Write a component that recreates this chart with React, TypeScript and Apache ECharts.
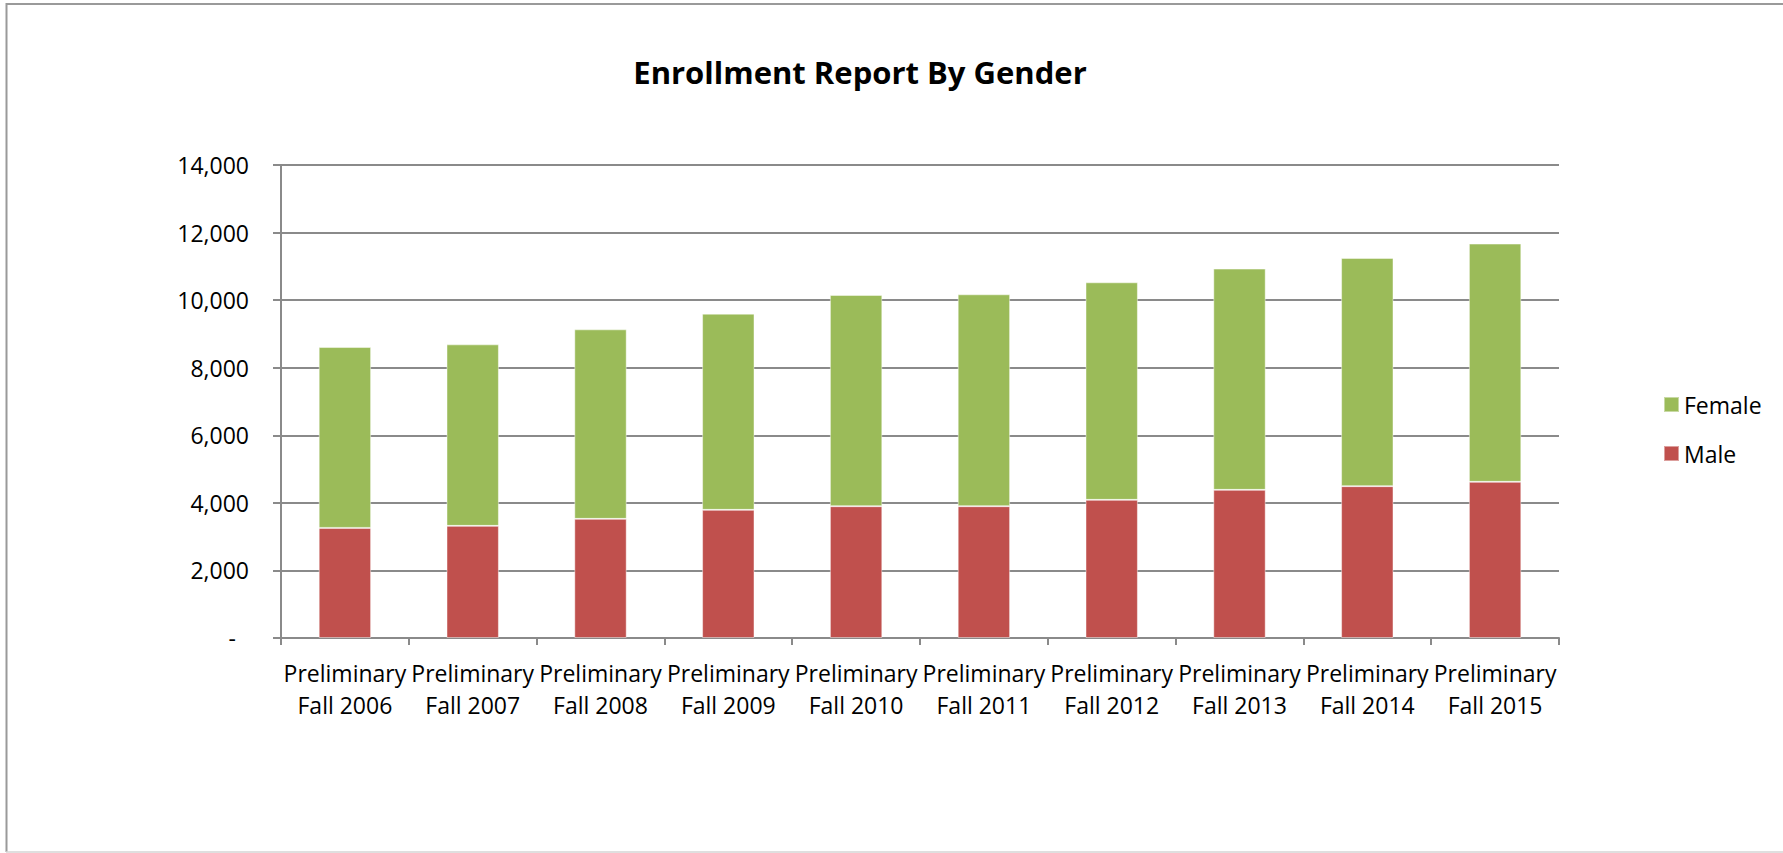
import React, { useEffect, useRef } from "react";
import * as echarts from "echarts";

const categories = [
  "Preliminary\nFall 2006",
  "Preliminary\nFall 2007",
  "Preliminary\nFall 2008",
  "Preliminary\nFall 2009",
  "Preliminary\nFall 2010",
  "Preliminary\nFall 2011",
  "Preliminary\nFall 2012",
  "Preliminary\nFall 2013",
  "Preliminary\nFall 2014",
  "Preliminary\nFall 2015",
];
const maleValues = [3259, 3319, 3526, 3793, 3901, 3901, 4089, 4385, 4494, 4622];
const femaleValues = [5353, 5372, 5610, 5807, 6252, 6272, 6439, 6548, 6755, 7052];
const titleText = "Enrollment Report By Gender";
const yMin = 0;
const yMax = 14000;
const yInterval = 2000;

const FONT = "'Open Sans', 'Liberation Sans', sans-serif";
const GRAY = "#8a8a8a";

export default function App() {
  const ref = useRef<HTMLDivElement>(null);

  useEffect(() => {
    if (!ref.current) return;
    const chart = echarts.init(ref.current, null, { renderer: "svg" });
    chart.setOption({
      animation: false,
      backgroundColor: "#ffffff",
      title: {
        text: titleText,
        left: 855,
        top: 51,
        textAlign: "center",
        textStyle: {
          fontFamily: FONT,
          fontWeight: "bold",
          fontSize: 31,
          color: "#000000",
        },
      },
      legend: {
        orient: "vertical",
        left: 1658,
        top: 388,
        itemWidth: 15,
        itemHeight: 15,
        itemGap: 26,
        icon: "rect",
        data: ["Female", "Male"],
        textStyle: {
          fontFamily: FONT,
          fontSize: 23,
          lineHeight: 23,
          color: "#000000",
        },
      },
      grid: {
        left: 281,
        right: 224,
        top: 165,
        bottom: 215,
        containLabel: false,
      },
      xAxis: {
        type: "category",
        data: categories,
        boundaryGap: true,
        axisLine: { show: true, lineStyle: { color: GRAY, width: 2 } },
        axisTick: { show: true, length: 7, lineStyle: { color: GRAY, width: 2 } },
        axisLabel: {
          interval: 0,
          margin: 19,
          fontFamily: FONT,
          fontSize: 23,
          lineHeight: 32,
          color: "#000000",
        },
        splitLine: { show: false },
      },
      yAxis: {
        type: "value",
        min: yMin,
        max: yMax,
        interval: yInterval,
        axisLine: { show: true, lineStyle: { color: GRAY, width: 2 } },
        axisTick: { show: true, length: 8, lineStyle: { color: GRAY, width: 2 } },
        axisLabel: {
          margin: 32,
          fontFamily: FONT,
          fontSize: 23,
          color: "#000000",
          formatter: (v: number) =>
            v === 0 ? "{d|-}" : v.toLocaleString("en-US"),
          rich: {
            d: {
              fontFamily: FONT,
              fontSize: 23,
              color: "#000000",
              padding: [0, 13, 0, 0],
            },
          },
        },
        splitLine: { show: true, lineStyle: { color: GRAY, width: 2 } },
      },
      series: [
        {
          name: "Male",
          type: "bar",
          stack: "total",
          data: maleValues,
          barCategoryGap: "59%",
          itemStyle: {
            color: "#C0504D",
            borderColor: "rgba(255,255,255,0.45)",
            borderWidth: 1,
          },
        },
        {
          name: "Female",
          type: "bar",
          stack: "total",
          data: femaleValues,
          barCategoryGap: "59%",
          itemStyle: {
            color: "#9BBB59",
            borderColor: "rgba(255,255,255,0.45)",
            borderWidth: 1,
          },
        },
      ],
      graphic: [
        {
          type: "line",
          shape: { x1: 6, y1: 4, x2: 1783, y2: 4 },
          style: { stroke: "#9a9a9a", lineWidth: 2 },
          silent: true,
        },
        {
          type: "line",
          shape: { x1: 6.5, y1: 3, x2: 6.5, y2: 852 },
          style: { stroke: "#9a9a9a", lineWidth: 2 },
          silent: true,
        },
        {
          type: "line",
          shape: { x1: 6, y1: 852, x2: 1783, y2: 852 },
          style: { stroke: "#d4d4d4", lineWidth: 1.5 },
          silent: true,
        },
      ],
    });
    return () => chart.dispose();
  }, []);

  return (
    <div
      ref={ref}
      style={{ position: "fixed", left: 0, top: 0, width: 1783, height: 853 }}
    />
  );
}
